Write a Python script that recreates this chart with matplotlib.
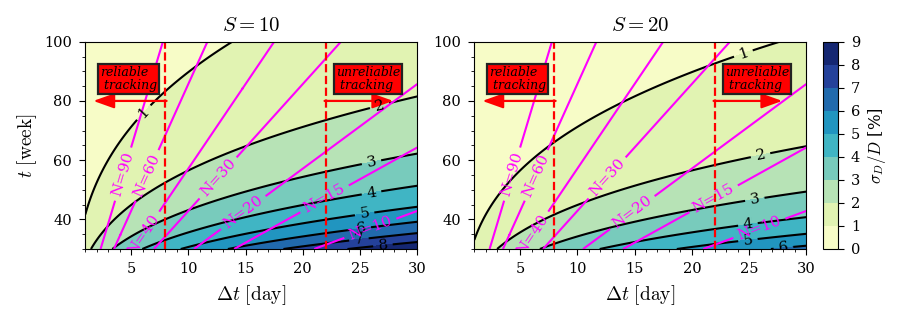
import numpy as np
import matplotlib
matplotlib.use("Agg")
import matplotlib.pyplot as plt
from matplotlib.ticker import MultipleLocator

plt.rcParams['font.family'] = 'serif'
plt.rcParams['font.serif'] = ['DejaVu Serif']
plt.rcParams['mathtext.fontset'] = 'cm'

# panel settings
S_values = [10, 20]
# sigma_D/D [%] = K * sqrt(dt / (S * t^3)), K fitted from the contour positions
K = 850.0

levels = list(range(0, 10))
line_levels = list(range(1, 10))
N_levels = [10, 15, 20, 30, 40, 60, 90]

# where the labels sit along dt (day)
sigma_label_dt = {10: [6.1, 26.7, 26.0, 26.0, 25.4, 25.1, 24.9, 27.0],
                  20: [24.5, 26.0, 25.5, 24.9, 24.9, 28.0]}
N_label_dt = {10: 25.9, 15: 21.9, 20: 14.8, 30: 12.6, 40: 6.1, 60: 6.4, 90: 4.3}

dt_lim = (1, 30)
t_lim = (30, 100)
reliable_dt = 8
unreliable_dt = 22

dt = np.linspace(dt_lim[0], dt_lim[1], 400)
tt = np.linspace(t_lim[0], t_lim[1], 400)
DT, T = np.meshgrid(dt, tt)


def sigma(dt, t, S):
    return K * np.sqrt(dt / (S * t**3))


fig = plt.figure(figsize=(8.97, 3.21), dpi=100)
axes = [fig.add_axes([0.0951, 0.2243, 0.3701, 0.6458]),
        fig.add_axes([0.5288, 0.2243, 0.3701, 0.6458])]
cax = fig.add_axes([0.9178, 0.2243, 0.0161, 0.6458])

for ax, S in zip(axes, S_values):
    Z = sigma(DT, T, S)
    cf = ax.contourf(DT, T, Z, levels=levels, cmap='YlGnBu')
    cs = ax.contour(DT, T, Z, levels=line_levels, colors='k', linewidths=1.5)
    pos = []
    for L, x in zip(line_levels, sigma_label_dt[S]):
        pos.append((x, (K * np.sqrt(x / S) / L) ** (2 / 3)))
    ax.clabel(cs, fmt='%d', manual=pos, inline=True, fontsize=11)

    NN = 7 * T / DT
    cn = ax.contour(DT, T, NN, levels=N_levels, colors='magenta', linewidths=1.5)
    npos = [(N_label_dt[n], n * N_label_dt[n] / 7) for n in N_levels]
    ax.clabel(cn, fmt='N=%d', manual=npos, inline=True, fontsize=11)

    # reliable / unreliable regions
    ax.axvline(reliable_dt, color='red', ls='--', lw=1.6)
    ax.axvline(unreliable_dt, color='red', ls='--', lw=1.6)
    ax.annotate('', xy=(1.7, 80), xytext=(reliable_dt + 0.1, 80),
                arrowprops=dict(arrowstyle='-|>,head_length=0.7,head_width=0.25',
                                color='red', lw=1.6, mutation_scale=18,
                                shrinkA=0, shrinkB=0))
    ax.annotate('', xy=(27.9, 80), xytext=(unreliable_dt - 0.1, 80),
                arrowprops=dict(arrowstyle='-|>,head_length=0.7,head_width=0.25',
                                color='red', lw=1.6, mutation_scale=18,
                                shrinkA=0, shrinkB=0))
    box = dict(boxstyle='square,pad=0.15', facecolor='red', edgecolor='#222222', lw=1.6)
    ax.text(4.75, 87.4, 'reliable\n tracking', style='italic', fontsize=9,
            ha='center', va='center', multialignment='left', linespacing=1.0, bbox=box)
    ax.text(25.7, 87.3, 'unreliable\n tracking', style='italic', fontsize=9,
            ha='center', va='center', multialignment='left', linespacing=1.0, bbox=box)

    ax.set_xlim(dt_lim)
    ax.set_ylim(t_lim)
    ax.set_xticks([5, 10, 15, 20, 25, 30])
    ax.set_yticks([40, 60, 80, 100])
    ax.xaxis.set_minor_locator(MultipleLocator(1))
    ax.yaxis.set_minor_locator(MultipleLocator(5))
    ax.tick_params(labelsize=10.5, length=4.5, pad=5)
    ax.tick_params(which='minor', length=2.5)
    ax.set_title(r'$S=%d$' % S, fontsize=15, pad=8)
    ax.set_xlabel(r'$\Delta t\ [\mathrm{day}]$', fontsize=14, labelpad=5)

axes[0].set_ylabel(r'$t\ [\mathrm{week}]$', fontsize=14)

cb = fig.colorbar(cf, cax=cax, ticks=levels)
cb.ax.tick_params(labelsize=10.5, length=4.5, pad=5)
cb.set_label(r'$\sigma_D/D$ [%]', fontsize=12)

fig.savefig('out.png', dpi=100)
